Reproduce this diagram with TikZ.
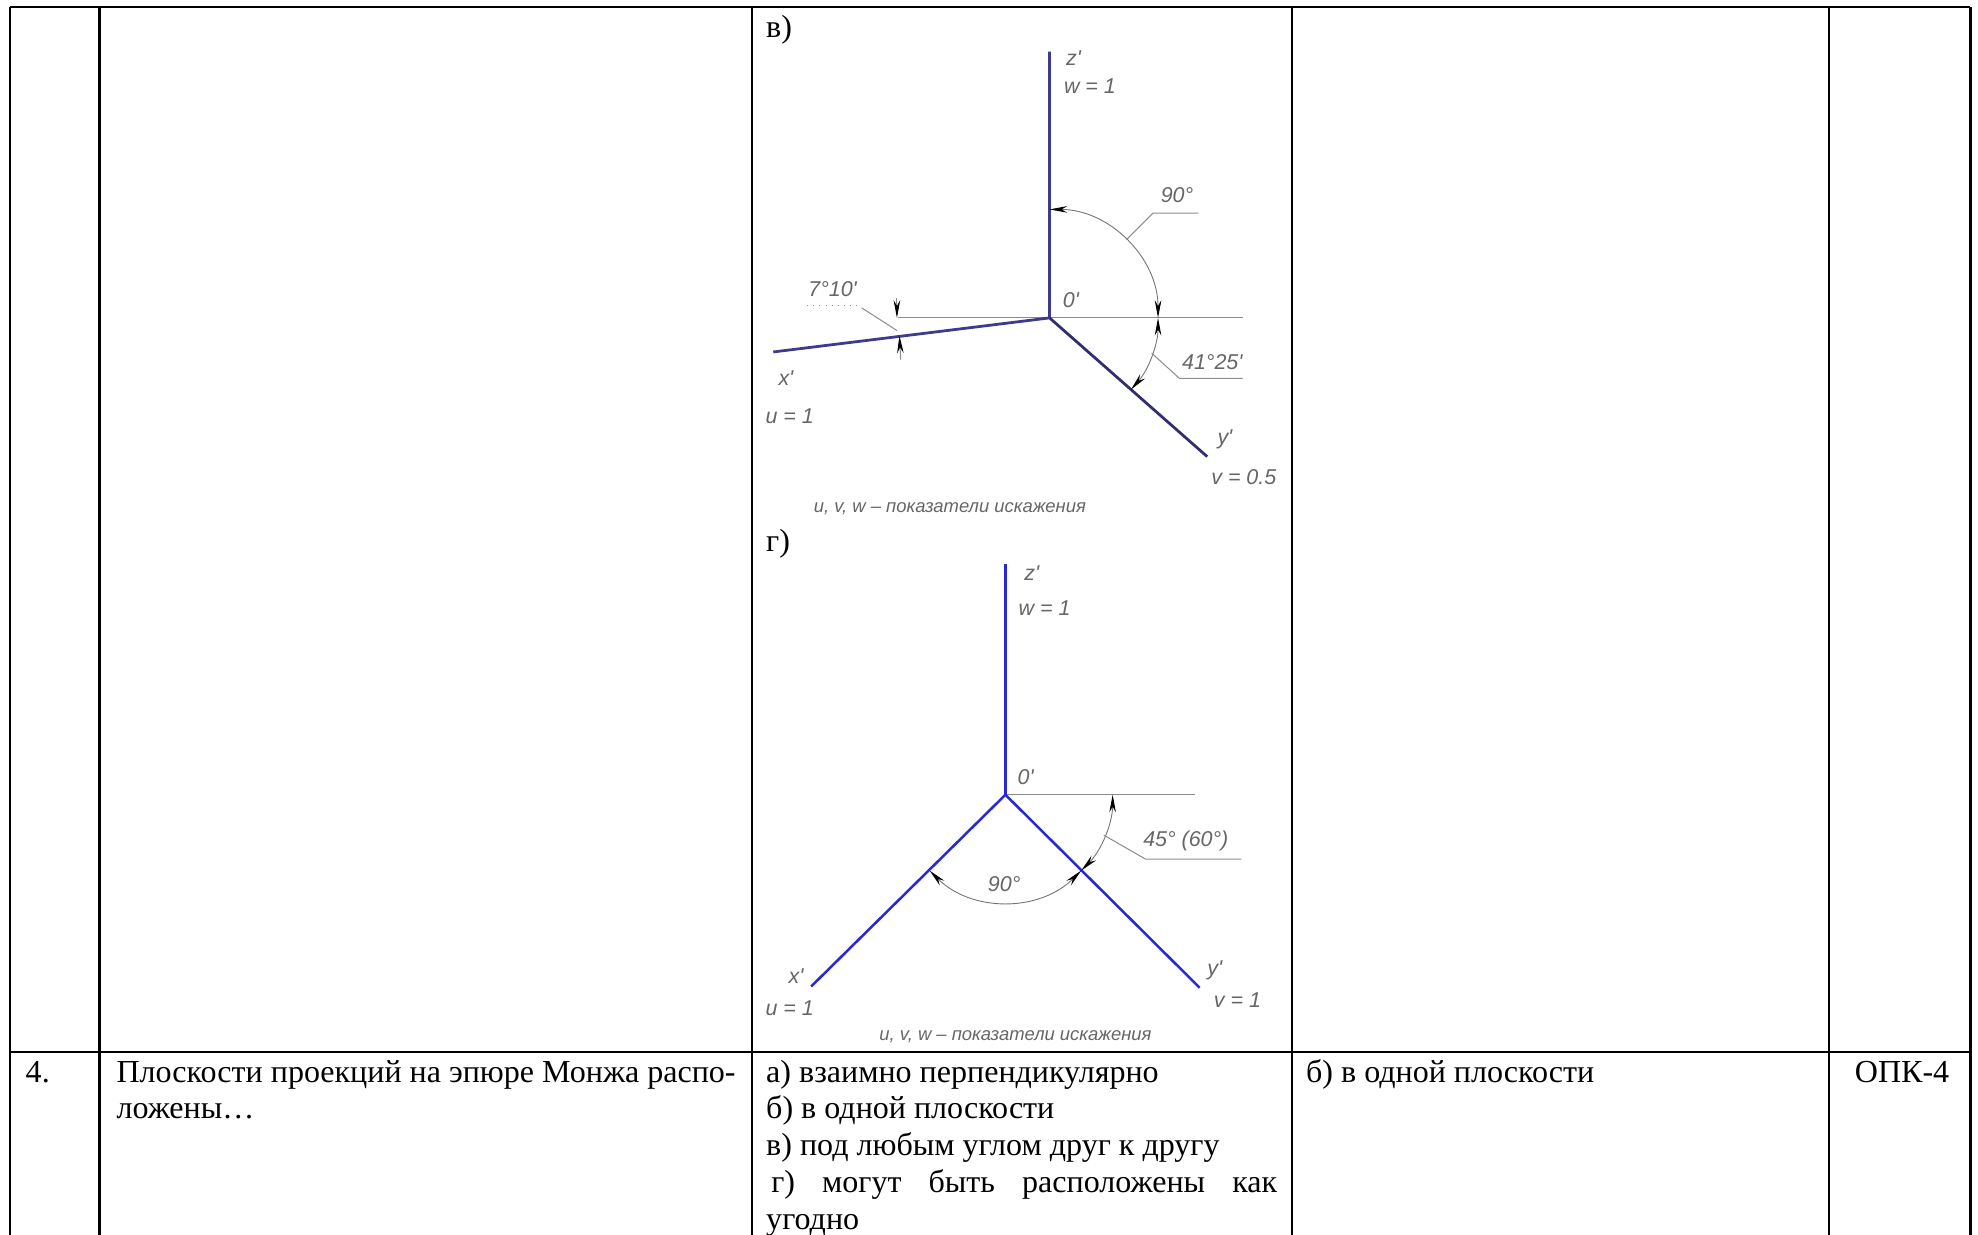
\documentclass[tikz,border=0pt]{standalone}
\usepackage{fontspec}
\setmainfont{Liberation Serif}
\newfontfamily\draftfont{Liberation Sans}
\usetikzlibrary{arrows.meta}
\tikzset{
  rule/.style={line width=1pt,black},
  axisb/.style={line width=1.1pt,color={rgb,255:red,62;green,58;blue,140}},
  axisg/.style={line width=1.0pt,color={rgb,255:red,40;green,40;blue,215}},
  thin gray/.style={line width=0.4pt,black!45},
  dimarc/.style={line width=0.35pt,black!55,{Stealth[length=7pt,width=2.6pt,black]}-{Stealth[length=7pt,width=2.6pt,black]}},
  dimtext/.style={font=\draftfont\itshape\fontsize{8.5}{10}\selectfont,text=black!60,inner sep=0pt},
  captext/.style={dimtext,font=\draftfont\itshape\fontsize{7.3}{9}\selectfont},
  celltext/.style={font=\fontsize{12.7}{15}\selectfont,anchor=base west,inner sep=0pt},
}
\begin{document}
\begin{tikzpicture}[x=0.5pt,y=-0.5pt]
  \useasboundingbox (0,0) rectangle (1568,979);
  % table
  \foreach \xx in {8,79,596,1024,1450,1562}
    \draw[rule] (\xx,5.5) -- (\xx,979);
  \draw[rule] (8,5.5) -- (1562,5.5);
  \draw[rule] (8,834) -- (1562,834);
  % row 4
  \node[celltext] (num) at (20,858) {4.};
  \node[celltext] (q1) at (92,858) {Плоскости проекций на эпюре Монжа распо-};
  \node[celltext] (q2) at (92,887) {ложены…};
  \node[celltext] (a1) at (607,858) {а) взаимно перпендикулярно};
  \node[celltext] (a2) at (607,887) {б) в одной плоскости};
  \node[celltext] (a3) at (607,916) {в) под любым углом друг к другу};
  \node[celltext,text width=200.5pt] (a4) at (611,945.5) {г)\hfill могут\hfill быть\hfill расположены\hfill как};
  \node[celltext] (a5) at (607,974.5) {угодно};
  \node[celltext] (key) at (1035,858) {б) в одной плоскости};
  \node[celltext] (comp) at (1470,858) {ОПК-4};
  % figure v
  \node[celltext] (lblv) at (607,30) {в)};
  \coordinate (Ov) at (832,252);
  \coordinate (Xv) at (613,279);
  \coordinate (Yv) at (957,362);
  \coordinate (Zv) at (832,41);
  \draw[thin gray] (712,252) -- (985,252);
  \draw[axisb] (Zv) -- (Ov) -- (Xv);
  \draw[axisb,color={rgb,255:red,48;green,46;blue,110}] (Ov) -- (Yv);
  \draw[dimarc] (Ov) ++(-90:86) arc[start angle=-90,end angle=0,radius=86];
  \draw[dimarc] (Ov) ++(0:86) arc[start angle=0,end angle=41.42,radius=86];
  \draw[thin gray,-{Stealth[length=7pt,width=2.6pt,black]}] (711,236) -- (711,252);
  \draw[thin gray,-{Stealth[length=7pt,width=2.6pt,black]}] (714,285) -- (713,266);
  \draw[thin gray] (893,190) -- (914,169) -- (950,169);
  \draw[thin gray] (913,280) -- (935,300) -- (985,300);
  \draw[thin gray] (711,262) -- (683,244);
  \draw[thin gray,dotted] (640,242) -- (680,242);
  \node[dimtext] (zv) at (851,46) {z'};
  \node[dimtext] (wv) at (864,68) {w = 1};
  \node[dimtext] (ov) at (849,238) {0'};
  \node[dimtext] (a90) at (933,155) {90°};
  \node[dimtext] (a41) at (961,287) {41°25'};
  \node[dimtext] (a7) at (660,229) {7°10'};
  \node[dimtext] (xv) at (623,300) {x'};
  \node[dimtext] (uv) at (626,330) {u = 1};
  \node[dimtext] (yv) at (971,348) {y'};
  \node[dimtext] (vv) at (986,378) {v = 0.5};
  \node[captext] (capv) at (753,403) {u, v, w – показатели искажения};
  % figure g
  \node[celltext] (lblg) at (607,437) {г)};
  \coordinate (Og) at (797,630);
  \coordinate (Xg) at (643,782);
  \coordinate (Yg) at (951,783);
  \coordinate (Zg) at (797,447);
  \draw[thin gray] (Og) -- (947,630);
  \draw[axisg] (Zg) -- (Og);
  \draw[axisg] (Xg) -- (Og) -- (Yg);
  \draw[dimarc] (Og) ++(45:85) arc[start angle=45,end angle=135,radius=85];
  \draw[dimarc] (Og) ++(45:85) arc[start angle=45,end angle=0,radius=85];
  \draw[thin gray] (875,662) -- (908,681) -- (984,681);
  \node[dimtext] (zg) at (818,454) {z'};
  \node[dimtext] (wg) at (828,482) {w = 1};
  \node[dimtext] (og) at (813,616) {0'};
  \node[dimtext] (a45) at (940,667) {45° (60°)};
  \node[dimtext] (b90) at (796,701) {90°};
  \node[dimtext] (xg) at (631,774) {x'};
  \node[dimtext] (ug) at (626,799) {u = 1};
  \node[dimtext] (yg) at (963,769) {y'};
  \node[dimtext] (vg) at (981,793) {v = 1};
  \node[captext] (capg) at (805,822) {u, v, w – показатели искажения};
\end{tikzpicture}
\end{document}
